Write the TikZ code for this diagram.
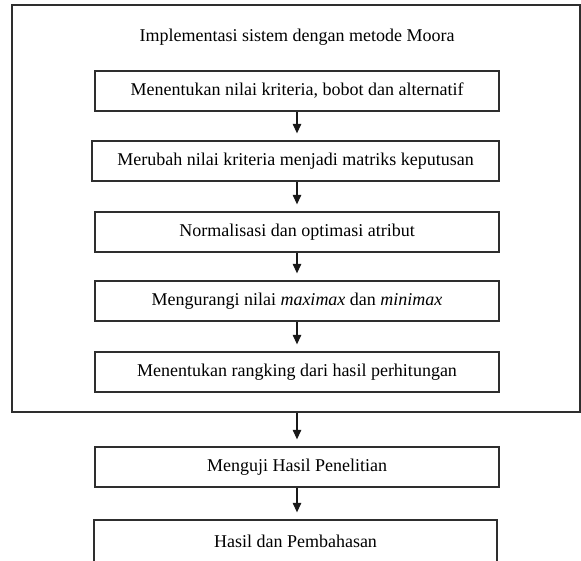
\documentclass[tikz,border=0pt]{standalone}
\usepackage{fontspec}
\setmainfont{Liberation Serif}
\usetikzlibrary{arrows.meta}
\begin{document}
\begin{tikzpicture}[x=1pt,y=-1pt,
  frame/.style={draw=black!82,line width=1.3pt},
  stepbox/.style={frame,rectangle,inner sep=0pt,minimum width=404pt,minimum height=40pt,font=\fontsize{18}{20}\selectfont},
  flow/.style={draw=black!90,line width=1.2pt,-{Triangle[length=9.5pt,width=8.5pt]},shorten >=7pt}]
\useasboundingbox (0,0) rectangle (581,560);
\clip (0,0) rectangle (581,560);
\node[frame,rectangle,inner sep=0pt,minimum width=568pt,minimum height=407pt] (outer) at (296,208.5) {};
\node[font=\fontsize{18}{20}\selectfont] (title) at (297,37.5) {Implementasi sistem dengan metode Moora};
\node[stepbox] (b1) at (297,91) {Menentukan nilai kriteria, bobot dan alternatif};
\node[stepbox,minimum width=407pt] (b2) at (295.5,161) {Merubah nilai kriteria menjadi matriks keputusan};
\node[stepbox] (b3) at (297,232) {Normalisasi dan optimasi atribut};
\node[stepbox] (b4) at (297,301) {Mengurangi nilai \textit{maximax} dan \textit{minimax}};
\node[stepbox] (b5) at (297,372) {Menentukan rangking dari hasil perhitungan};
\node[stepbox] (b6) at (297,467) {Menguji Hasil Penelitian};
\node[stepbox,minimum width=403pt,minimum height=42pt] (b7) at (295.5,541) {Hasil dan Pembahasan};
\draw[flow] (b1.south) -- (b2.north -| b1.south);
\draw[flow] (b2.south -| b1.south) -- (b3.north);
\draw[flow] (b3.south) -- (b4.north);
\draw[flow] (b4.south) -- (b5.north);
\draw[flow] (outer.south -| b5.south) -- (b6.north);
\draw[flow] (b6.south) -- (b7.north -| b6.south);
\end{tikzpicture}
\end{document}
